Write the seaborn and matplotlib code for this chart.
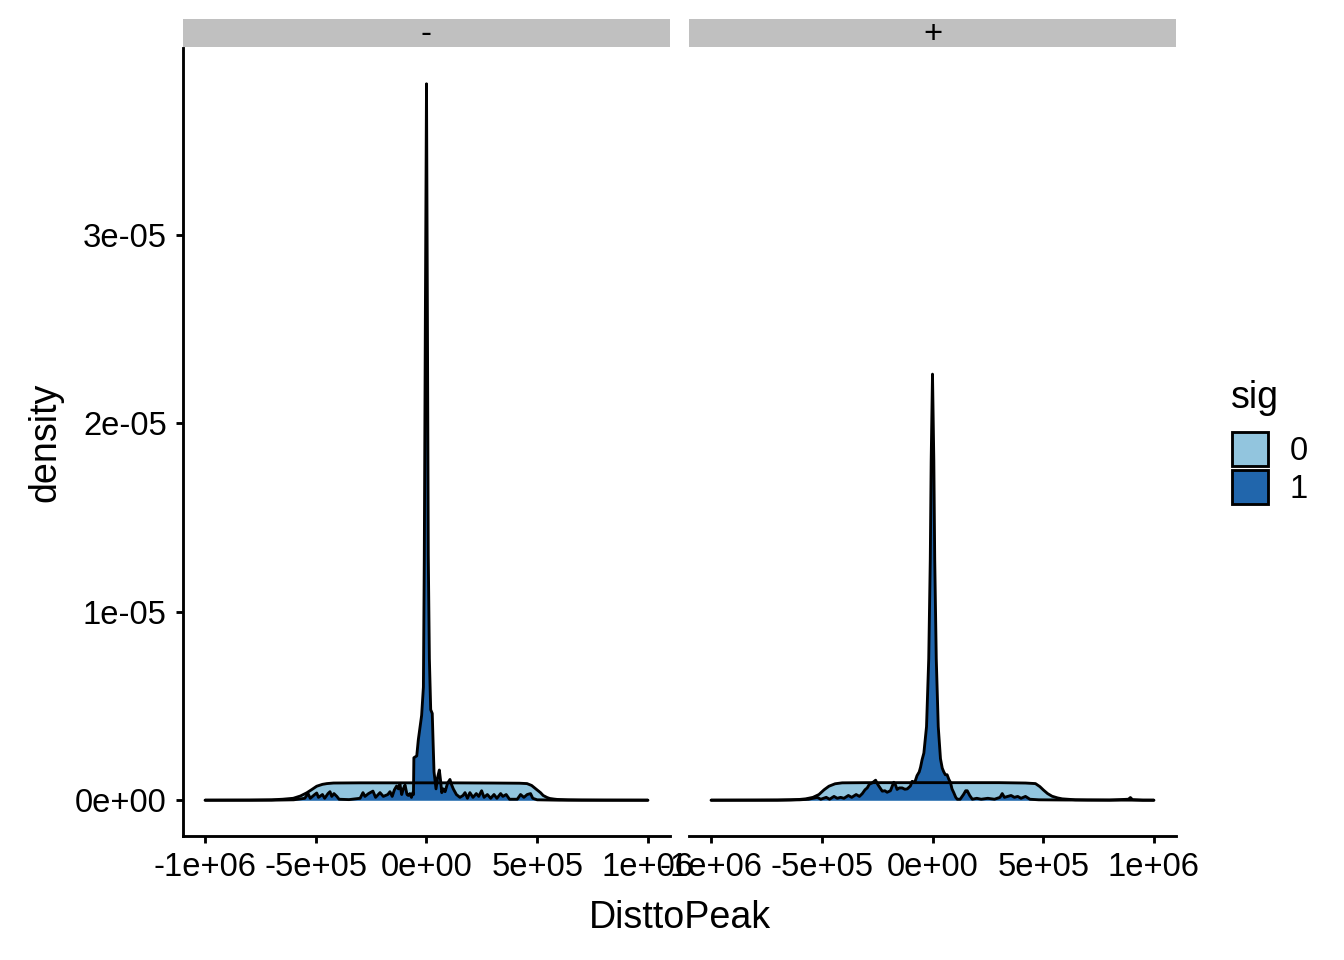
import numpy as np
import pandas as pd
import matplotlib
matplotlib.use('Agg')
import matplotlib.pyplot as plt
from matplotlib.patches import Patch
import seaborn as sns

sns.set_style('ticks')
plt.rcParams['font.family'] = ['Liberation Sans', 'DejaVu Sans']
plt.rcParams['text.color'] = 'black'
plt.rcParams['axes.labelcolor'] = 'black'

# values: distance in kb, density in 1e-6
panels = ['-', '+']
sig_levels = ['0', '1']
sig_colors = ['#92C5DE', '#2166AC']

minus_sig0_x = [-1000, -800, -700, -650, -602, -570, -541, -520, -496, -470, -450,
                -420, -300, -100, 0, 100, 300, 420, 454, 475, 498, 515, 527,
                545, 557, 575, 590, 640, 700, 800, 1000]
minus_sig0_y = [0, 0.005, 0.02, 0.05, 0.1, 0.22, 0.39, 0.55, 0.74, 0.84, 0.88,
                0.91, 0.92, 0.92, 0.92, 0.92, 0.91, 0.9, 0.88, 0.78, 0.56, 0.4, 0.25,
                0.14, 0.09, 0.06, 0.04, 0.02, 0.01, 0.004, 0]

minus_sig1_x = [-1000, -700, -600, -550, -535, -525, -505, -496, -488, -470, -460,
                -445, -436, -428, -418, -405, -395, -350, -300, -287, -278, -262,
                -242, -230, -210, -195, -175, -165, -155, -145, -135, -127, -120,
                -112, -105, -97, -88, -82, -75, -68, -62, -59, -57, -44, -37, -22,
                -14, -10, -5, 0, 4, 8, 13, 19, 26, 30, 34, 43, 50, 58, 64, 69, 76,
                84, 95, 106, 114, 121, 135, 151, 165, 174, 185, 196, 210, 225, 236,
                249, 260, 275, 290, 305, 318, 335, 345, 360, 375, 410, 425, 440,
                455, 470, 480, 500, 600, 1000]
minus_sig1_y = [0, 0, 0.02, 0.1, 0.35, 0.1, 0.3, 0.38, 0.15, 0.3, 0.1,
                0.35, 0.45, 0.2, 0.35, 0.2, 0.05, 0.03, 0.1, 0.4, 0.2, 0.35,
                0.48, 0.15, 0.4, 0.2, 0.3, 0.45, 0.2, 0.55, 0.75, 0.6, 0.85,
                0.3, 0.6, 0.8, 0.3, 0.25, 0.35, 0.15, 0.4, 0.3, 2.25, 2.35, 3.2, 4.5,
                6.0, 12.8, 26.0, 38.0, 26.0, 13.0, 7.5, 4.8, 4.6, 3.0, 1.5, 0.6, 1.2, 1.6, 1.0, 0.4, 0.6,
                0.45, 0.9, 1.1, 0.8, 0.6, 0.3, 0.15, 0.25, 0.4, 0.1, 0.4, 0.15, 0.35, 0.2,
                0.5, 0.15, 0.3, 0.1, 0.3, 0.1, 0.35, 0.2, 0.3, 0.05, 0.05, 0.3, 0.15,
                0.3, 0.35, 0.1, 0.02, 0, 0]

plus_sig0_x = [-1000, -800, -700, -640, -600, -573, -540, -513, -490, -468, -440,
               -408, -300, 0, 300, 420, 465, 485, 502, 520, 540, 565, 586, 646,
               700, 800, 1000]
plus_sig0_y = [0, 0.005, 0.01, 0.02, 0.04, 0.07, 0.15, 0.3, 0.55, 0.74, 0.87,
               0.92, 0.93, 0.93, 0.93, 0.91, 0.88, 0.72, 0.53, 0.35, 0.21, 0.12, 0.07, 0.02,
               0.01, 0.005, 0]

plus_sig1_x = [-1000, -700, -600, -560, -520, -505, -480, -465, -445, -430, -415,
               -400, -380, -365, -345, -330, -317, -305, -295, -285, -272, -257,
               -248, -242, -227, -215, -205, -190, -175, -167, -160, -150, -137,
               -125, -114, -100, -92, -80, -70, -60, -54, -47, -39, -27, -17, -10,
               -6, 0, 6, 10, 17, 26, 36, 44, 51, 58, 66, 74, 81, 88, 96, 105, 112,
               125, 140, 150, 157, 168, 180, 200, 220, 250, 280, 305, 315, 325, 340,
               355, 370, 385, 400, 420, 440, 480, 600, 800, 885, 894, 903, 950, 1000]
plus_sig1_y = [0, 0, 0.02, 0.05, 0.15, 0.05, 0.15, 0.05, 0.2, 0.1, 0.15,
               0.1, 0.25, 0.15, 0.3, 0.2, 0.35, 0.55, 0.65, 0.85, 0.92, 1.06,
               0.85, 0.74, 0.48, 0.5, 0.42, 0.5, 0.95, 0.8, 0.57, 0.65, 0.65,
               0.58, 0.6, 0.75, 1.0, 0.95, 1.3, 1.5, 1.75, 2.15, 2.5, 3.9, 7.5, 12.8,
               18.0, 22.6, 18.0, 12.8, 7.5, 3.9, 2.2, 1.7, 1.5, 1.35, 1.35, 1.1, 0.95, 0.6, 0.4, 0.15, 0.05,
               0.05, 0.3, 0.5, 0.5, 0.25, 0.05, 0.1, 0.05, 0.1, 0.05, 0.15, 0.35, 0.15, 0.2,
               0.25, 0.15, 0.2, 0.1, 0.2, 0.05, 0.02, 0.01, 0.005, 0.05, 0.14, 0.03, 0, 0]

curves = {
    '-': [(minus_sig0_x, minus_sig0_y), (minus_sig1_x, minus_sig1_y)],
    '+': [(plus_sig0_x, plus_sig0_y), (plus_sig1_x, plus_sig1_y)],
}

x_ticks = [-1e6, -5e5, 0, 5e5, 1e6]
x_tick_labels = ['-1e+06', '-5e+05', '0e+00', '5e+05', '1e+06']
y_ticks = [0, 1e-5, 2e-5, 3e-5]
y_tick_labels = ['0e+00', '1e-05', '2e-05', '3e-05']

W, H = 1344, 960
fig = plt.figure(figsize=(7, 5), dpi=192)

lw = 1.07
fs_tick = 12.3
fs_title = 14.1
panel_left = [183, 689]
panel_w = 487
panel_top, panel_bot = 48, 836

for i, p in enumerate(panels):
    ax = fig.add_axes([panel_left[i] / W, 1 - panel_bot / H, panel_w / W,
                       (panel_bot - panel_top) / H])
    for (xs, ys), col in zip(curves[p], sig_colors):
        df = pd.DataFrame({'DisttoPeak': np.array(xs) * 1e3,
                           'density': np.array(ys) * 1e-6})
        ax.fill_between(df['DisttoPeak'], 0, df['density'], color=col, lw=0)
        sns.lineplot(data=df, x='DisttoPeak', y='density', ax=ax, color='black',
                     lw=lw, sort=False, estimator=None)
    ax.set_xlim(-1.1e6, 1.1e6)
    ax.set_ylim(-1.9e-6, 3.99e-5)
    ax.set_xticks(x_ticks)
    ax.set_xticklabels(x_tick_labels)
    ax.set_xlabel('')
    ax.set_ylabel('')
    ax.tick_params(length=2.6, width=lw, labelsize=fs_tick, colors='black', pad=3.5)
    for s in ['top', 'right']:
        ax.spines[s].set_visible(False)
    ax.spines['bottom'].set_linewidth(lw)
    ax.spines['left'].set_linewidth(lw)
    ax.spines['bottom'].set_color('black')
    ax.spines['left'].set_color('black')
    if i == 0:
        ax.set_yticks(y_ticks)
        ax.set_yticklabels(y_tick_labels)
    else:
        ax.spines['left'].set_visible(False)
        ax.set_yticks([])

    sax = fig.add_axes([panel_left[i] / W, 1 - 47 / H, panel_w / W, 28 / H])
    sax.set_facecolor('#C0C0C0')
    sax.set_xticks([])
    sax.set_yticks([])
    for s in sax.spines.values():
        s.set_visible(False)
    sax.text(0.5, 0.45, p, ha='center', va='center', fontsize=fs_tick,
             transform=sax.transAxes)

fig.text(680 / W, 1 - 918 / H, 'DisttoPeak', ha='center', va='center', fontsize=fs_title)
fig.text(45 / W, 1 - 442 / H, 'density', ha='center', va='center', fontsize=fs_title,
         rotation=90)

# legend: title placed on its own so the gap to the keys matches
fig.text(1231 / W, 1 - 398 / H, 'sig', ha='left', va='center', fontsize=fs_title)
handles = [Patch(facecolor=c, edgecolor='black', lw=lw) for c in sig_colors]
fig.legend(handles, sig_levels, loc='upper left',
           bbox_to_anchor=(1232 / W, 1 - 432 / H), frameon=False, fontsize=fs_tick,
           handlelength=1.1, handleheight=1.22, borderaxespad=0,
           labelspacing=0.1, borderpad=0, handletextpad=0.65)

fig.savefig('out.png', dpi=192)
